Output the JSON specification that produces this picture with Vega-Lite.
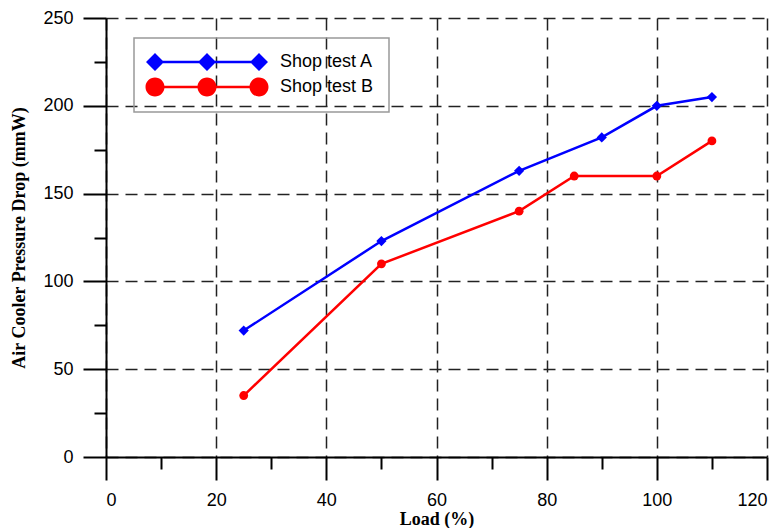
{
  "$schema": "https://vega.github.io/schema/vega-lite/v6.json",
  "width": 661,
  "height": 439,
  "autosize": {"type": "none"},
  "padding": {"left": 106, "top": 18, "right": 14, "bottom": 71},
  "background": "white",
  "data": {
    "values": [
      {"load": 25, "drop": 72, "series": "Shop test A"},
      {"load": 50, "drop": 123, "series": "Shop test A"},
      {"load": 75, "drop": 163, "series": "Shop test A"},
      {"load": 90, "drop": 182, "series": "Shop test A"},
      {"load": 100, "drop": 200, "series": "Shop test A"},
      {"load": 110, "drop": 205, "series": "Shop test A"},
      {"load": 25, "drop": 35, "series": "Shop test B"},
      {"load": 50, "drop": 110, "series": "Shop test B"},
      {"load": 75, "drop": 140, "series": "Shop test B"},
      {"load": 85, "drop": 160, "series": "Shop test B"},
      {"load": 100, "drop": 160, "series": "Shop test B"},
      {"load": 110, "drop": 180, "series": "Shop test B"}
    ]
  },
  "resolve": {"axis": {"x": "independent", "y": "independent"}},
  "layer": [
    {
      "mark": {"type": "line", "strokeWidth": 2.5},
      "encoding": {
        "x": {
          "field": "load", "type": "quantitative",
          "scale": {"domain": [0, 120], "nice": false, "zero": false},
          "axis": {
            "orient": "bottom",
            "values": [0, 20, 40, 60, 80, 100, 120],
            "title": "Load (%)",
            "grid": true,
            "tickSize": 23,
            "labelPadding": 11,
            "titlePadding": 1
          }
        },
        "y": {
          "field": "drop", "type": "quantitative",
          "scale": {"domain": [0, 250], "nice": false, "zero": false},
          "axis": {
            "orient": "left",
            "values": [0, 50, 100, 150, 200, 250],
            "title": "Air Cooler Pressure Drop (mmW)",
            "grid": true,
            "tickSize": 23,
            "labelPadding": 10,
            "titlePadding": 14
          }
        },
        "color": {
          "field": "series", "type": "nominal",
          "scale": {"domain": ["Shop test A", "Shop test B"], "range": ["#0000ff", "#ff0000"]},
          "legend": {
            "orient": "none",
            "legendX": 28,
            "legendY": 20,
            "title": null,
            "padding": 15,
            "strokeColor": "#999999",
            "labelFont": "Liberation Sans",
            "labelFontSize": 18,
            "labelColor": "#000000",
            "labelLimit": 300,
            "symbolSize": 4,
            "symbolOffset": 49,
            "labelOffset": 64,
            "rowPadding": 6,
            "encode": {
              "symbols": {
                "update": {
                  "shape": {"signal": "datum.value == 'Shop test A' ? 'M-52,-1.2H52V1.2H-52Z M-61,0L-52,-9L-43,0L-52,9Z M-9,0L0,-9L9,0L0,9Z M43,0L52,-9L61,0L52,9Z' : 'M-52,-1.2H52V1.2H-52Z M-61.5,0A9.5,9.5,0,1,1,-42.5,0A9.5,9.5,0,1,1,-61.5,0Z M-9.5,0A9.5,9.5,0,1,1,9.5,0A9.5,9.5,0,1,1,-9.5,0Z M42.5,0A9.5,9.5,0,1,1,61.5,0A9.5,9.5,0,1,1,42.5,0Z'"},
                  "fill": {"signal": "datum.value == 'Shop test A' ? '#0000ff' : '#ff0000'"},
                  "stroke": {"value": "transparent"},
                  "strokeWidth": {"value": 0},
                  "size": {"value": 4},
                  "opacity": {"value": 1}
                }
              }
            }
          }
        }
      }
    },
    {
      "transform": [{"filter": "datum.series == 'Shop test A'"}],
      "mark": {"type": "point", "filled": true, "opacity": 1, "shape": "diamond", "size": 105, "color": "#0000ff"},
      "encoding": {
        "x": {"field": "load", "type": "quantitative", "axis": null},
        "y": {"field": "drop", "type": "quantitative", "axis": null}
      }
    },
    {
      "transform": [{"filter": "datum.series == 'Shop test B'"}],
      "mark": {"type": "point", "filled": true, "opacity": 1, "shape": "circle", "size": 78, "color": "#ff0000"},
      "encoding": {
        "x": {"field": "load", "type": "quantitative", "axis": null},
        "y": {"field": "drop", "type": "quantitative", "axis": null}
      }
    },
    {
      "mark": {"type": "point", "opacity": 0},
      "encoding": {
        "x": {
          "field": "load", "type": "quantitative",
          "axis": {
            "orient": "bottom",
            "values": [10, 30, 50, 70, 90, 110],
            "labels": false, "domain": false, "grid": false, "title": null,
            "tickSize": 12
          }
        },
        "y": {
          "field": "drop", "type": "quantitative",
          "axis": {
            "orient": "left",
            "values": [25, 75, 125, 175, 225],
            "labels": false, "domain": false, "grid": false, "title": null,
            "tickSize": 12
          }
        }
      }
    }
  ],
  "config": {
    "view": {"stroke": null},
    "legend": {"strokeWidth": 1.5},
    "axis": {
      "domainColor": "#000000",
      "domainWidth": 2,
      "tickColor": "#000000",
      "tickWidth": 2,
      "gridColor": "#222222",
      "gridWidth": 1.5,
      "gridDash": [12, 7],
      "gridOpacity": 1,
      "labelFont": "Liberation Sans",
      "labelFontSize": 18,
      "labelColor": "#000000",
      "titleFont": "Liberation Serif",
      "titleFontSize": 18,
      "titleFontWeight": "bold",
      "titleColor": "#000000"
    }
  }
}
